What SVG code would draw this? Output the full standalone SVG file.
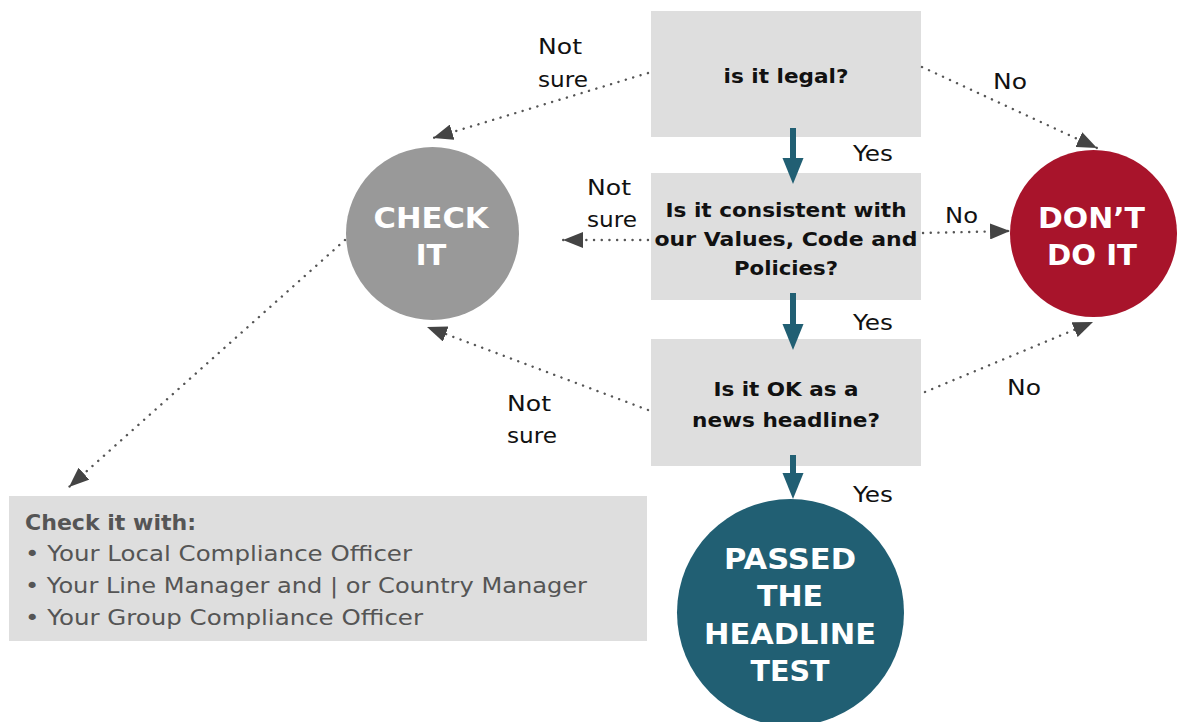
<svg xmlns="http://www.w3.org/2000/svg" width="1184" height="722" viewBox="0 0 1184 722">
<defs>
<style>
.box{fill:#dedede}
.q{font-family:"DejaVu Sans","Liberation Sans",sans-serif;font-weight:bold;font-size:20px;fill:#111;text-anchor:middle}
.lbl{font-family:"DejaVu Sans","Liberation Sans",sans-serif;font-size:21px;fill:#111}
.big{font-family:"DejaVu Sans","Liberation Sans",sans-serif;font-weight:bold;font-size:29px;fill:#fff;text-anchor:middle}
.dot{fill:none;stroke:#555;stroke-width:2.4;stroke-dasharray:0.1 7.6;stroke-linecap:round}
.teal{fill:#215f73}
.list{font-family:"DejaVu Sans","Liberation Sans",sans-serif;font-size:21px;fill:#555}
</style>
<marker id="ah" viewBox="0 0 20 16" refX="20" refY="8" markerWidth="20" markerHeight="16" markerUnits="userSpaceOnUse" orient="auto">
<path d="M0,0 L20,8 L0,16 z" fill="#444"/>
</marker>
</defs>
<rect width="1184" height="722" fill="#fff"/>
<g id="q1">
<rect class="box" x="651" y="11" width="270" height="126"/>
<text class="q" x="786" y="83" textLength="125" lengthAdjust="spacingAndGlyphs">is it legal?</text>
</g>
<g id="q2">
<rect class="box" x="651" y="173" width="270" height="127"/>
<text class="q" x="786" y="217" textLength="241" lengthAdjust="spacingAndGlyphs">Is it consistent with</text>
<text class="q" x="786" y="246" textLength="263" lengthAdjust="spacingAndGlyphs">our Values, Code and</text>
<text class="q" x="786" y="275" textLength="104" lengthAdjust="spacingAndGlyphs">Policies?</text>
</g>
<g id="q3">
<rect class="box" x="651" y="339" width="270" height="127"/>
<text class="q" x="786" y="396" textLength="145" lengthAdjust="spacingAndGlyphs">Is it OK as a</text>
<text class="q" x="786" y="427" textLength="188" lengthAdjust="spacingAndGlyphs">news headline?</text>
</g>
<g id="check">
<circle cx="432.5" cy="233.5" r="86.5" fill="#999999"/>
<text class="big" x="431" y="228" textLength="115" lengthAdjust="spacingAndGlyphs">CHECK</text>
<text class="big" x="431" y="265">IT</text>
</g>
<g id="dont">
<circle cx="1093.5" cy="233.5" r="83.5" fill="#a8142b"/>
<text class="big" x="1091.5" y="228" textLength="107" lengthAdjust="spacingAndGlyphs">DON’T</text>
<text class="big" x="1092" y="265" textLength="90" lengthAdjust="spacingAndGlyphs">DO IT</text>
</g>
<g id="passed">
<circle cx="790.5" cy="612.5" r="113.5" fill="#215f73"/>
<text class="big" x="790" y="569" textLength="132" lengthAdjust="spacingAndGlyphs">PASSED</text>
<text class="big" x="790" y="606" textLength="66" lengthAdjust="spacingAndGlyphs">THE</text>
<text class="big" x="790" y="644" textLength="172" lengthAdjust="spacingAndGlyphs">HEADLINE</text>
<text class="big" x="790" y="681" textLength="79" lengthAdjust="spacingAndGlyphs">TEST</text>
</g>
<g id="checkwith">
<rect class="box" x="9" y="496" width="638" height="145"/>
<text class="list" x="25" y="530" font-weight="bold" textLength="171" lengthAdjust="spacingAndGlyphs">Check it with:</text>
<text class="list" x="25" y="561" textLength="387" lengthAdjust="spacingAndGlyphs">• Your Local Compliance Officer</text>
<text class="list" x="25" y="593" textLength="562" lengthAdjust="spacingAndGlyphs">• Your Line Manager and | or Country Manager</text>
<text class="list" x="25" y="625" textLength="398" lengthAdjust="spacingAndGlyphs">• Your Group Compliance Officer</text>
</g>
<g id="connectors">
<rect class="teal" x="790" y="128" width="6" height="34"/>
<path class="teal" d="M782.5,158 L803.5,158 L793,184 z"/>
<rect class="teal" x="790" y="293" width="6" height="34"/>
<path class="teal" d="M782.5,324 L803.5,324 L793,350 z"/>
<rect class="teal" x="790" y="455" width="6" height="21"/>
<path class="teal" d="M782.5,473 L803.5,473 L793,499 z"/>
<line class="dot" x1="648" y1="73" x2="433" y2="138" marker-end="url(#ah)"/>
<line class="dot" x1="648" y1="240" x2="563" y2="240" marker-end="url(#ah)"/>
<line class="dot" x1="648" y1="410" x2="427" y2="327" marker-end="url(#ah)"/>
<line class="dot" x1="345" y1="240" x2="69" y2="487" marker-end="url(#ah)"/>
<line class="dot" x1="922" y1="67" x2="1097" y2="148" marker-end="url(#ah)"/>
<line class="dot" x1="923" y1="233" x2="1010" y2="231" marker-end="url(#ah)"/>
<line class="dot" x1="925" y1="392" x2="1093" y2="322" marker-end="url(#ah)"/>
<text class="lbl" x="538" y="54" textLength="44" lengthAdjust="spacingAndGlyphs">Not</text>
<text class="lbl" x="538" y="87" textLength="50" lengthAdjust="spacingAndGlyphs">sure</text>
<text class="lbl" x="587" y="195" textLength="44" lengthAdjust="spacingAndGlyphs">Not</text>
<text class="lbl" x="587" y="227" textLength="50" lengthAdjust="spacingAndGlyphs">sure</text>
<text class="lbl" x="507" y="411" textLength="44" lengthAdjust="spacingAndGlyphs">Not</text>
<text class="lbl" x="507" y="443" textLength="50" lengthAdjust="spacingAndGlyphs">sure</text>
<text class="lbl" x="853" y="161" textLength="40" lengthAdjust="spacingAndGlyphs">Yes</text>
<text class="lbl" x="853" y="330" textLength="40" lengthAdjust="spacingAndGlyphs">Yes</text>
<text class="lbl" x="853" y="502" textLength="40" lengthAdjust="spacingAndGlyphs">Yes</text>
<text class="lbl" x="993" y="89" textLength="34" lengthAdjust="spacingAndGlyphs">No</text>
<text class="lbl" x="945" y="223" textLength="33" lengthAdjust="spacingAndGlyphs">No</text>
<text class="lbl" x="1007" y="395" textLength="34" lengthAdjust="spacingAndGlyphs">No</text>
</g>
</svg>
